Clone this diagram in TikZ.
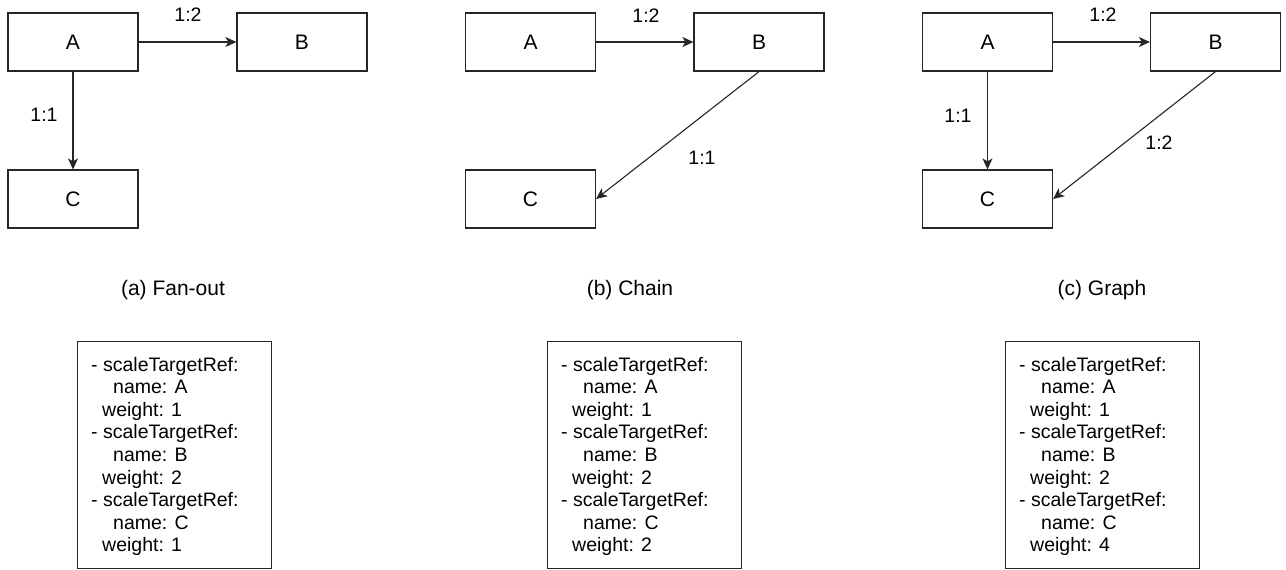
\documentclass[tikz,border=0pt]{standalone}
\usepackage{fontspec}
\setmainfont{Liberation Sans}
\usetikzlibrary{arrows.meta}

\tikzset{
  svc/.style={draw=black!85, line width=1.2pt, minimum width=130pt, minimum height=58pt,
    inner sep=0pt, font=\fontsize{21}{25}\selectfont},
  flow/.style={draw=black!85, line width=1.1pt,
    -{Stealth[length=11pt,width=10pt,inset=3pt]}},
  ratio/.style={inner sep=0pt, font=\fontsize{19.5}{23}\selectfont},
  caption/.style={inner sep=0pt, font=\fontsize{21}{25}\selectfont},
  yamlframe/.style={draw=black!85, line width=1.2pt, minimum width=194pt,
    minimum height=227pt, inner sep=0pt, anchor=north west},
  yamlline/.style={inner sep=0pt, anchor=base west, font=\fontsize{19.5}{23}\selectfont},
}

% #1 prefix, #2 left edge of the frame, #3 #4 #5 weights of A, B, C
\newcommand\yamlpanel[5]{%
  \node[yamlframe] (#1frame) at (#2,341) {};
  \node[yamlline] (#1l1) at (#2+14,371.0) {- scaleTargetRef:};
  \node[yamlline] (#1l2) at (#2+36,393.6) {name: A};
  \node[yamlline] (#1l3) at (#2+25,416.2) {weight: #3};
  \node[yamlline] (#1l4) at (#2+14,438.8) {- scaleTargetRef:};
  \node[yamlline] (#1l5) at (#2+36,461.4) {name: B};
  \node[yamlline] (#1l6) at (#2+25,484.0) {weight: #4};
  \node[yamlline] (#1l7) at (#2+14,506.6) {- scaleTargetRef:};
  \node[yamlline] (#1l8) at (#2+36,529.2) {name: C};
  \node[yamlline] (#1l9) at (#2+25,551.8) {weight: #5};
}

\begin{document}
\begin{tikzpicture}[x=1pt,y=-1pt]
\useasboundingbox (0,0) rectangle (1286,570);
\fill[white] (0,0) rectangle (1286,570);

% (a) Fan-out
\node[svc] (aA) at (73,42) {A};
\node[svc] (aB) at (302,42) {B};
\node[svc] (aC) at (73,199) {C};
\draw[flow] (aA) -- (aB);
\draw[flow] (aA) -- (aC);
\node[ratio] (aAB) at (188,15) {1:2};
\node[ratio] (aAC) at (44,115) {1:1};
\node[caption] (acap) at (173,290) {(a) Fan-out};

% (b) Chain
\node[svc] (bA) at (530.5,42) {A};
\node[svc] (bB) at (759,42) {B};
\node[svc] (bC) at (530.5,199) {C};
\draw[flow] (bA) -- (bB);
\draw[flow] (bB.south) -- (bC.east);
\node[ratio] (bAB) at (646,16) {1:2};
\node[ratio] (bBC) at (702,158) {1:1};
\node[caption] (bcap) at (630,290) {(b) Chain};

% (c) Graph
\node[svc] (cA) at (987.5,42) {A};
\node[svc] (cB) at (1215.5,42) {B};
\node[svc] (cC) at (987.5,199) {C};
\draw[flow] (cA) -- (cB);
\draw[flow] (cA) -- (cC);
\draw[flow] (cB.south) -- (cC.east);
\node[ratio] (cAB) at (1103,15) {1:2};
\node[ratio] (cAC) at (958,116) {1:1};
\node[ratio] (cBC) at (1159,143) {1:2};
\node[caption] (ccap) at (1102,290) {(c) Graph};

% weighted scale target lists
\yamlpanel{ya}{77}{1}{2}{1}
\yamlpanel{yb}{547}{1}{2}{2}
\yamlpanel{yc}{1005}{1}{2}{4}
\end{tikzpicture}
\end{document}
